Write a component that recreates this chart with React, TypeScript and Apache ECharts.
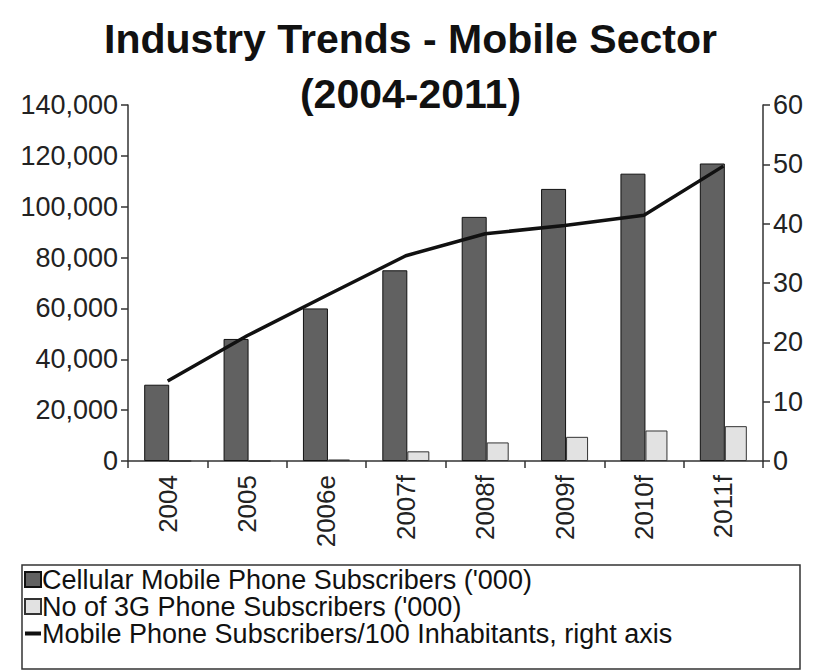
import React, { useEffect, useRef } from "react";
import * as echarts from "echarts";

const categories = ["2004", "2005", "2006e", "2007f", "2008f", "2009f", "2010f", "2011f"];
const cellularSubscribers = [30000, 48000, 60000, 75000, 96000, 107000, 113000, 117000];
const subscribers3G = [0, 0, 600, 3800, 7300, 9500, 12000, 13700];
const per100Inhabitants = [13.5, 21.1, 27.9, 34.6, 38.3, 39.7, 41.4, 49.7];
const leftTicks = [0, 20000, 40000, 60000, 80000, 100000, 120000, 140000];
const rightTicks = [0, 10, 20, 30, 40, 50, 60];

const seriesNames = [
  "Cellular Mobile Phone Subscribers ('000)",
  "No of 3G Phone Subscribers ('000)",
  "Mobile Phone Subscribers/100 Inhabitants, right axis",
];

const FONT = "Liberation Sans, Arial, sans-serif";

export default function App() {
  const ref = useRef<HTMLDivElement>(null);
  useEffect(() => {
    if (!ref.current) return;
    const chart = echarts.init(ref.current, undefined, { renderer: "svg" });
    const axisLine = { show: true, lineStyle: { color: "#333", width: 1.5 } };
    chart.setOption({
      animation: false,
      backgroundColor: "#fff",
      title: {
        text: "Industry Trends - Mobile Sector\n(2004-2011)",
        left: "center",
        top: 6,
        textStyle: {
          fontFamily: FONT,
          fontWeight: "bold",
          fontSize: 41,
          lineHeight: 55,
          color: "#111",
        },
      },
      grid: { left: 128, right: 58, top: 105, bottom: 211, containLabel: false },
      legend: {
        orient: "vertical",
        left: 24,
        top: 566,
        padding: 0,
        itemGap: 0,
        itemWidth: 16,
        itemHeight: 15,
        textStyle: { fontFamily: FONT, fontSize: 27, color: "#111", padding: [0, 0, 0, -4] },
        data: [
          { name: seriesNames[0], icon: "rect" },
          { name: seriesNames[1], icon: "rect" },
          { name: seriesNames[2], icon: "path://M0,0H16V4H0Z" },
        ],
      },
      graphic: [
        {
          type: "rect",
          shape: { x: 22, y: 565, width: 778, height: 104 },
          style: { fill: "none", stroke: "#333", lineWidth: 1.5 },
        },
      ],
      xAxis: {
        type: "category",
        data: categories,
        axisLine,
        axisTick: { show: true, alignWithLabel: false, length: 7, lineStyle: { color: "#333", width: 1.5 } },
        axisLabel: {
          rotate: 90,
          fontFamily: FONT,
          fontSize: 26,
          color: "#222",
          margin: 14,
        },
      },
      yAxis: [
        {
          type: "value",
          min: 0,
          max: 140000,
          interval: 20000,
          axisLine,
          axisTick: { show: true, length: 7, lineStyle: { color: "#333", width: 1.5 } },
          splitLine: { show: false },
          axisLabel: {
            fontFamily: FONT,
            fontSize: 27,
            color: "#222",
            margin: 10,
            formatter: (v: number) => (leftTicks.includes(v) ? v.toLocaleString("en-US") : ""),
          },
        },
        {
          type: "value",
          min: 0,
          max: 60,
          interval: 10,
          position: "right",
          axisLine,
          axisTick: { show: true, length: 7, lineStyle: { color: "#333", width: 1.5 } },
          splitLine: { show: false },
          axisLabel: {
            fontFamily: FONT,
            fontSize: 27,
            color: "#222",
            margin: 10,
            formatter: (v: number) => (rightTicks.includes(v) ? String(v) : ""),
          },
        },
      ],
      series: [
        {
          name: seriesNames[0],
          type: "bar",
          data: cellularSubscribers,
          barWidth: 25,
          barGap: "0%",
          itemStyle: { color: "#616161", borderColor: "#111", borderWidth: 1 },
        },
        {
          name: seriesNames[1],
          type: "bar",
          data: subscribers3G,
          barWidth: 22,
          barGap: "0%",
          itemStyle: { color: "#e2e2e2", borderColor: "#333", borderWidth: 1 },
        },
        {
          name: seriesNames[2],
          type: "line",
          yAxisIndex: 1,
          data: per100Inhabitants,
          symbol: "none",
          lineStyle: { color: "#111", width: 3.5 },
          itemStyle: { color: "#111" },
        },
      ],
    });
    return () => chart.dispose();
  }, []);
  return <div ref={ref} style={{ width: 821, height: 672, position: "absolute", left: 0, top: 0 }} />;
}
